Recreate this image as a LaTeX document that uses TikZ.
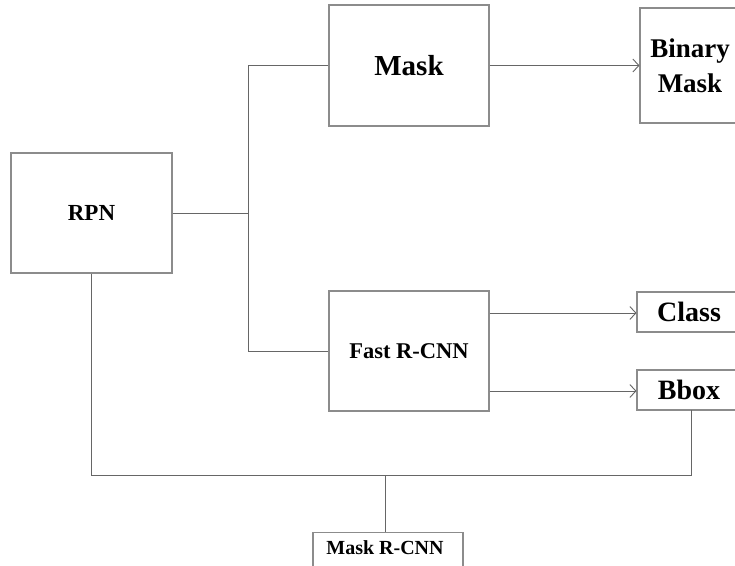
\documentclass[tikz,border=0pt]{standalone}
\usepackage{fontspec}
\setmainfont{Liberation Serif}
\usetikzlibrary{arrows.meta}
\begin{document}
\begin{tikzpicture}[x=1pt,y=-1pt,
  box/.style={draw=gray!90, line width=1.1pt, fill=white, inner sep=0pt},
  lbl/.style={font=\bfseries, inner sep=0pt, align=center},
  wire/.style={draw=gray!80!black, line width=1pt},
  arr/.style={wire, -{Straight Barb[length=6pt,width=13pt,line width=0.9pt]}},
]
\clip (0,0) rectangle (735,565);
\fill[white] (0,0) rectangle (735,565);

% boxes
\node[box, minimum width=161pt, minimum height=120pt] (rpn) at (91.5,213) {};
\node[box, minimum width=160pt, minimum height=121pt] (mask) at (409,65.5) {};
\node[box, minimum width=160pt, minimum height=120pt] (fast) at (409,351) {};
\node[box, minimum width=102pt, minimum height=115pt] (bin) at (691,65.5) {};
\node[box, minimum width=105pt, minimum height=40pt] (cls) at (689.5,312) {};
\node[box, minimum width=105pt, minimum height=40pt] (bbox) at (689.5,390) {};
\node[box, minimum width=150pt, minimum height=60pt, anchor=north] (mrcnn) at (388,532) {};

% labels
\node[lbl, font=\bfseries\fontsize{23}{28}\selectfont] (rpnlbl) at (rpn) {RPN};
\node[lbl, font=\bfseries\fontsize{29}{34}\selectfont] (masklbl) at (mask) {Mask};
\node[lbl, font=\bfseries\fontsize{22.5}{28}\selectfont] (fastlbl) at (fast) {Fast R-CNN};
\node[lbl, font=\bfseries\fontsize{27}{35}\selectfont] (binlbl) at (690,66) {Binary\\Mask};
\node[lbl, font=\bfseries\fontsize{28}{34}\selectfont] (clslbl) at (689,312) {Class};
\node[lbl, font=\bfseries\fontsize{28}{34}\selectfont] (bboxlbl) at (689,390) {Bbox};
\node[lbl, font=\bfseries\fontsize{20}{24}\selectfont] (mrcnnlbl) at (385,548) {Mask R-CNN};

% junction points
\coordinate (split) at (248,213);
\coordinate (bot) at (385,475);
\coordinate (bboxdrop) at (691,410);

% RPN feeds both branches
\draw[wire] (rpn.east) -- (split);
\draw[wire] (split) |- (mask.west);
\draw[wire] (split) |- (fast.west);

% outputs
\draw[arr] (mask.east) -- (bin.west);
\draw[arr] ([yshift=-40pt]fast.east) -- ([yshift=-40pt]fast.east -| cls.west);
\draw[arr] ([yshift=38pt]fast.east) -- ([yshift=38pt]fast.east -| bbox.west);

% collection into Mask R-CNN
\draw[wire] (rpn.south) |- (bot);
\draw[wire] (bboxdrop) |- (bot);
\draw[wire] (bot) -- (bot |- mrcnn.north);
\end{tikzpicture}
\end{document}
